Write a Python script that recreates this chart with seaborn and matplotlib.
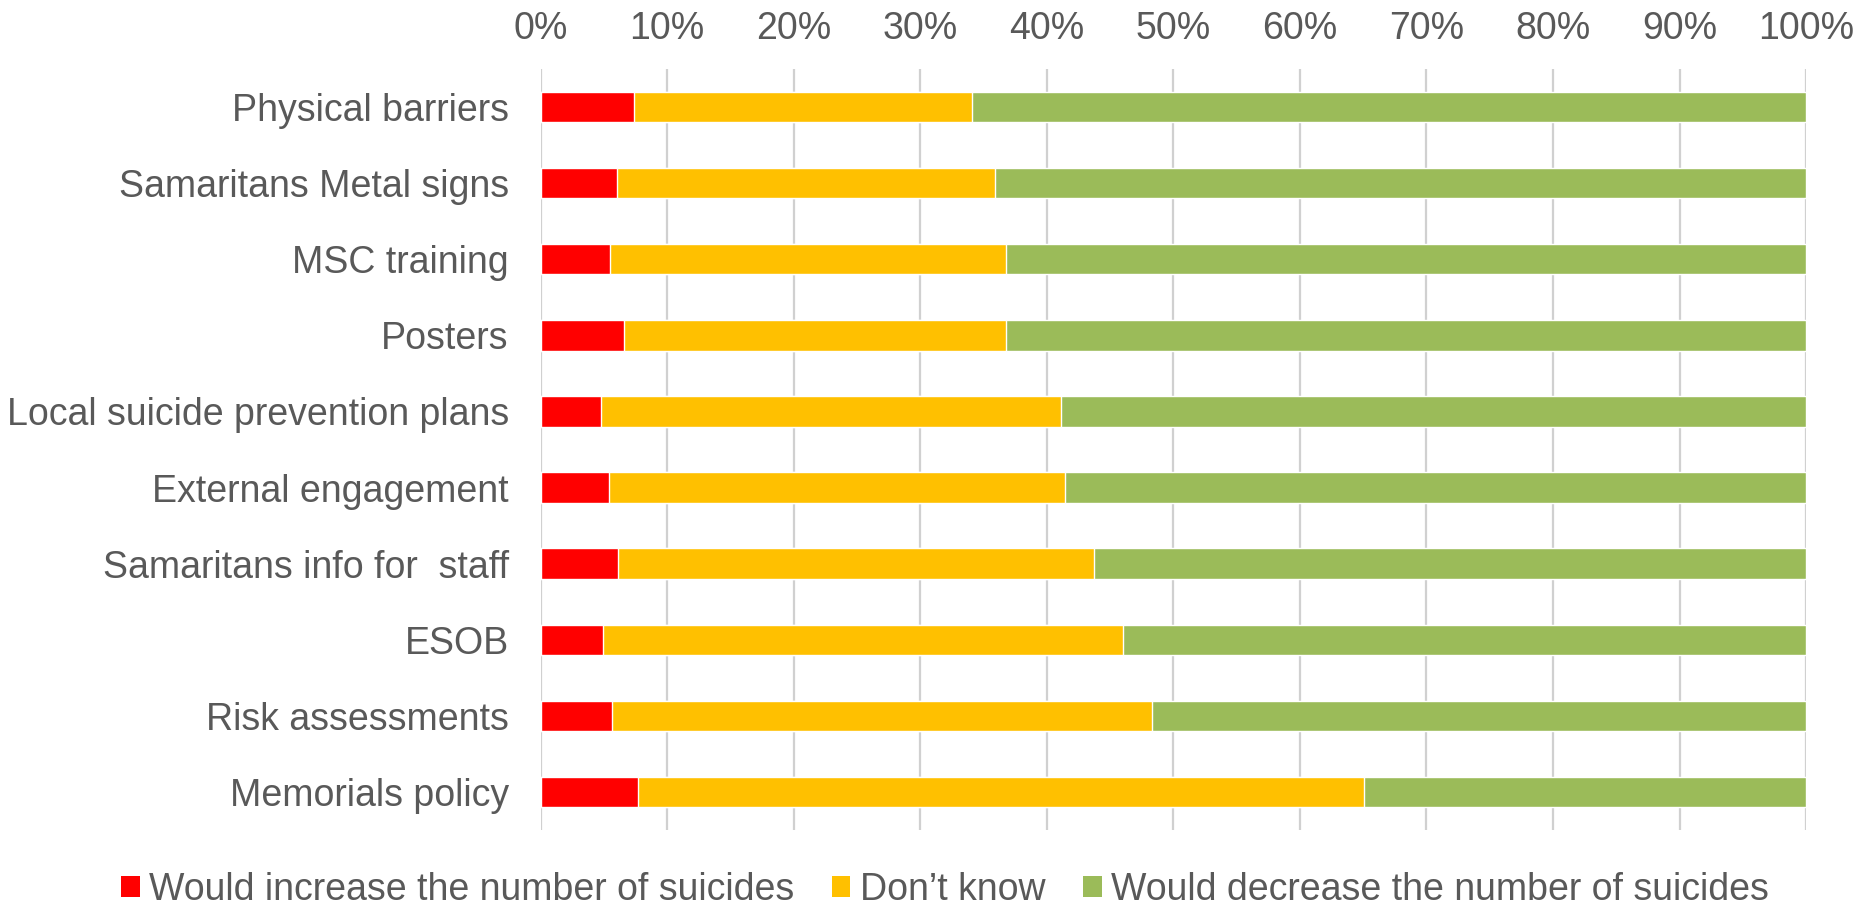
import matplotlib
matplotlib.use("Agg")
import matplotlib.pyplot as plt
import seaborn as sns
import pandas as pd
from matplotlib.patches import Patch
from matplotlib.ticker import FuncFormatter

categories = ["Physical barriers", "Samaritans Metal signs", "MSC training", "Posters",
              "Local suicide prevention plans", "External engagement",
              "Samaritans info for  staff", "ESOB", "Risk assessments", "Memorials policy"]
increase = [7.4, 6.0, 5.5, 6.6, 4.8, 5.4, 6.1, 4.9, 5.6, 7.7]
dont_know = [26.7, 29.9, 31.3, 30.2, 36.3, 36.05, 37.6, 41.1, 42.7, 57.4]
decrease = [65.9, 64.1, 63.2, 63.2, 58.9, 58.55, 56.3, 54.0, 51.7, 34.9]
series_names = ["Would increase the number of suicides", "Don\u2019t know",
                "Would decrease the number of suicides"]
colors = ["#FF0000", "#FFC000", "#9BBB59"]
xticks = [0, 10, 20, 30, 40, 50, 60, 70, 80, 90, 100]

sns.set_style("white")
plt.rcParams["font.family"] = ["Liberation Sans", "DejaVu Sans"]
TXT = "#595959"
FS = 27

df = pd.DataFrame({"cat": categories, "inc": increase, "dk": dont_know, "dec": decrease})
df["c1"] = df["inc"]
df["c2"] = df["inc"] + df["dk"]
df["c3"] = df["inc"] + df["dk"] + df["dec"]

fig = plt.figure(figsize=(18.6, 9.07), dpi=100)
ax = fig.add_axes([0.2907, 0.0849, 0.6803, 0.8390])

for col, color in zip(["c3", "c2", "c1"], colors[::-1]):
    sns.barplot(data=df, x=col, y="cat", orient="h", color=color, width=0.4,
                saturation=1, ax=ax, zorder=3)

ax.set_xlim(0, 100)
ax.set_xticks(xticks)
ax.xaxis.set_major_formatter(FuncFormatter(lambda v, p: f"{v:.0f}%"))
ax.xaxis.tick_top()
ax.set_xlabel("")
ax.set_ylabel("")
ax.grid(axis="x", color="#D0D0D0", linewidth=1.6, zorder=0)
ax.set_axisbelow(True)
for s in ax.spines.values():
    s.set_visible(False)
ax.tick_params(axis="x", length=0, pad=16, labelsize=FS, labelcolor=TXT)
ax.tick_params(axis="y", length=0, pad=23, labelsize=FS, labelcolor=TXT)

handles = [Patch(facecolor=c, edgecolor="none", label=n) for c, n in zip(colors, series_names)]
fig.legend(handles=handles, loc="center", bbox_to_anchor=(0.508, 1 - 890 / 907), ncol=3,
           frameon=False, fontsize=FS, labelcolor=TXT, handlelength=0.5, handleheight=0.5,
           handletextpad=0.25, columnspacing=1.0, borderaxespad=0, borderpad=0)

fig.savefig("out.png", dpi=100)
